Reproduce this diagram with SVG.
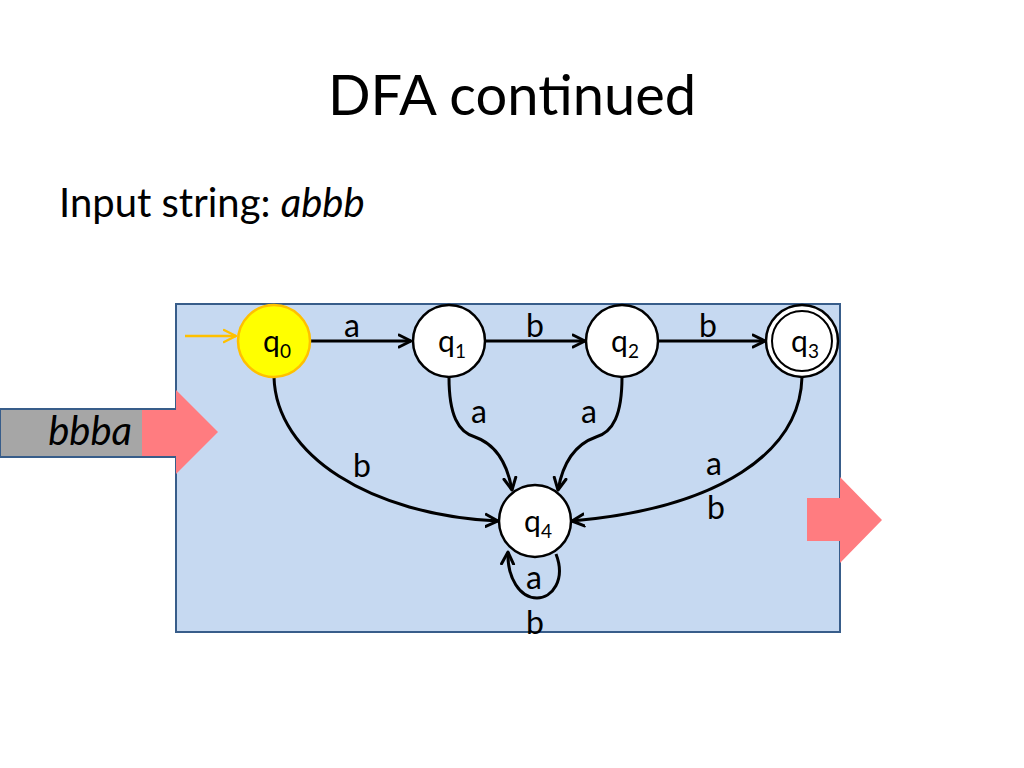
<svg xmlns="http://www.w3.org/2000/svg" width="1024" height="768" viewBox="0 0 1024 768">
<defs>
<marker id="arr" markerUnits="userSpaceOnUse" markerWidth="20" markerHeight="20" refX="13" refY="7" orient="auto" viewBox="0 0 20 14">
<path d="M1,1 L13,7 L1,13" fill="none" stroke="#000" stroke-width="3" stroke-linecap="round" stroke-linejoin="round"/>
</marker>
<marker id="arrY" markerUnits="userSpaceOnUse" markerWidth="20" markerHeight="20" refX="13" refY="7" orient="auto" viewBox="0 0 20 14">
<path d="M1,1 L13,7 L1,13" fill="none" stroke="#ffc000" stroke-width="2.5" stroke-linecap="round" stroke-linejoin="round"/>
</marker>
</defs>
<style>
text{font-family:Lato,"Open Sans","Liberation Sans",sans-serif;fill:#000}
.lbl{font-size:32px;text-anchor:middle}
.st{font-size:30px;text-anchor:middle}
.sub{font-size:19px}
.node{fill:#fff;stroke:#000;stroke-width:2.5}
.edge{fill:none;stroke:#000;stroke-width:3;marker-end:url(#arr)}
.pink{fill:#ff7c80}
</style>
<rect width="1024" height="768" fill="#fff"/>
<text x="512" y="115" font-size="56" text-anchor="middle">DFA continued</text>
<text x="59" y="217" font-size="40">Input string: <tspan font-style="italic">abbb</tspan></text>
<g id="machine">
<rect x="176" y="304" width="664" height="328" fill="#c6d9f1" stroke="#385d8a" stroke-width="2"/>
</g>
<g id="input-tape">
<rect x="0" y="409" width="176" height="48" fill="#a6a6a6" stroke="#385d8a" stroke-width="2"/>
<path class="pink" d="M142,410 L176,410 L176,390 L218,432 L176,474 L176,456 L142,456 Z"/>
<text x="132" y="445" font-size="40" font-style="italic" text-anchor="end">bbba</text>
</g>
<g id="output-arrow">
<path class="pink" d="M807,498 L840,498 L840,477 L882,520 L840,563 L840,541 L807,541 Z"/>
</g>
<g id="connectors">
<line x1="185" y1="336" x2="236" y2="336" stroke="#ffc000" stroke-width="2.5" marker-end="url(#arrY)"/>
<line class="edge" x1="310" y1="341" x2="411" y2="341"/>
<line class="edge" x1="485" y1="341" x2="585" y2="341"/>
<line class="edge" x1="659" y1="341" x2="765" y2="341"/>
<path class="edge" d="M274,377 C276,455 370,515 498,521"/>
<path class="edge" d="M449,377 C449,415 458,432 475,437 C495,444 507,462 512,490"/>
<path class="edge" d="M622,377 C622,415 613,432 596,437 C576,444 563,462 558,490"/>
<path class="edge" d="M802,377 C800,452 720,508 572,521"/>
<path class="edge" d="M556,554 C566,580 552,598 537,598 C520,598 507,578 508,552"/>
<text class="lbl" x="352" y="337">a</text>
<text class="lbl" x="535" y="337">b</text>
<text class="lbl" x="708" y="337">b</text>
<text class="lbl" x="362" y="477">b</text>
<text class="lbl" x="479" y="423">a</text>
<text class="lbl" x="589" y="423">a</text>
<text class="lbl" x="714" y="475">a</text>
<text class="lbl" x="716" y="519">b</text>
<text class="lbl" x="534" y="589">a</text>
<text class="lbl" x="535" y="634">b</text>
</g>
<g id="q0">
<circle cx="274" cy="341" r="36" fill="#ffff00" stroke="#ffc000" stroke-width="2.5"/>
<text class="st" x="277" y="352">q<tspan class="sub" dy="6">0</tspan></text>
</g>
<g id="q1">
<circle class="node" cx="449" cy="341" r="36"/>
<text class="st" x="452" y="352">q<tspan class="sub" dy="6">1</tspan></text>
</g>
<g id="q2">
<circle class="node" cx="622" cy="341" r="36"/>
<text class="st" x="625" y="352">q<tspan class="sub" dy="6">2</tspan></text>
</g>
<g id="q3">
<circle class="node" cx="802" cy="341" r="36"/>
<circle cx="802" cy="341" r="30" fill="none" stroke="#000" stroke-width="2"/>
<text class="st" x="805" y="352">q<tspan class="sub" dy="6">3</tspan></text>
</g>
<g id="q4">
<circle class="node" cx="535" cy="521" r="36"/>
<text class="st" x="538" y="532">q<tspan class="sub" dy="6">4</tspan></text>
</g>
</svg>
